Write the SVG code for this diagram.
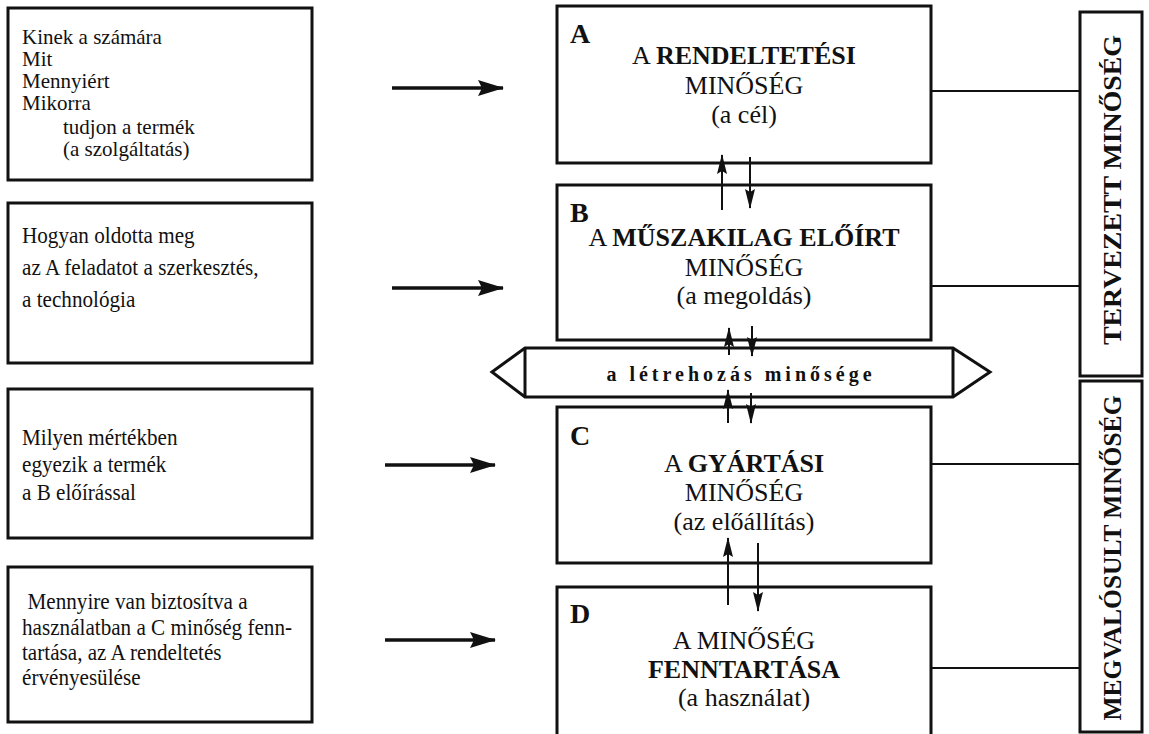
<svg xmlns="http://www.w3.org/2000/svg" width="1149" height="734" viewBox="0 0 1149 734">
<defs>
<style>
.box{fill:#fff;stroke:#111;stroke-width:3}
.lt{font-family:"Liberation Serif","Times New Roman",serif;font-size:23px;fill:#111}
.lt1{font-family:"Liberation Serif","Times New Roman",serif;font-size:21px;fill:#111}
.ct{font-family:"Liberation Serif","Times New Roman",serif;font-size:26px;fill:#111;text-anchor:middle}
.b{font-weight:bold}
.lbl{font-family:"Liberation Serif","Times New Roman",serif;font-size:28px;font-weight:bold;fill:#111}
.vt{font-family:"Liberation Serif","Times New Roman",serif;font-size:26px;font-weight:bold;fill:#111;text-anchor:middle}
.conn{stroke:#111;stroke-width:2;fill:none}
.harr{stroke:#111;stroke-width:3.5;fill:none}
.varr{stroke:#111;stroke-width:2;fill:none}
</style>
<marker id="hh" markerUnits="userSpaceOnUse" markerWidth="26" markerHeight="16" refX="25" refY="8" orient="auto">
<path d="M0,0 L26,8 L0,16 L4,8 Z" fill="#111"/>
</marker>
<marker id="vh" markerUnits="userSpaceOnUse" markerWidth="20" markerHeight="10" refX="19" refY="5" orient="auto">
<path d="M0,0 L20,5 L0,10 L3,5 Z" fill="#111"/>
</marker>
</defs>
<rect width="1149" height="734" fill="#fff"/>

<g id="q1">
<rect class="box" x="8" y="8" width="304" height="172"/>
<text class="lt1" x="22" y="44">Kinek a számára</text>
<text class="lt1" x="22" y="66">Mit</text>
<text class="lt1" x="22" y="88">Mennyiért</text>
<text class="lt1" x="22" y="110">Mikorra</text>
<text class="lt1" x="63" y="134">tudjon a termék</text>
<text class="lt1" x="63" y="156">(a szolgáltatás)</text>
</g>

<g id="q2">
<rect class="box" x="8" y="203" width="304" height="160"/>
<g transform="translate(22,0) scale(0.92,1)">
<text class="lt" x="0" y="243">Hogyan oldotta meg</text>
<text class="lt" x="0" y="275">az A feladatot a szerkesztés,</text>
<text class="lt" x="0" y="307">a technológia</text>
</g>
</g>

<g id="q3">
<rect class="box" x="8" y="389" width="304" height="149"/>
<g transform="translate(22,0) scale(0.92,1)">
<text class="lt" x="0" y="445">Milyen mértékben</text>
<text class="lt" x="0" y="472">egyezik a termék</text>
<text class="lt" x="0" y="500">a B előírással</text>
</g>
</g>

<g id="q4">
<rect class="box" x="8" y="567" width="304" height="155"/>
<g transform="translate(22,0) scale(0.92,1)">
<text class="lt" x="6" y="609">Mennyire van biztosítva a</text>
<text class="lt" x="0" y="635">használatban a C minőség fenn-</text>
<text class="lt" x="0" y="660">tartása, az A rendeltetés</text>
<text class="lt" x="0" y="685">érvényesülése</text>
</g>
</g>

<g id="nodeA">
<rect class="box" x="557" y="6" width="374" height="157"/>
<text class="lbl" x="570" y="43">A</text>
<text class="ct" x="744" y="64">A <tspan class="b">RENDELTETÉSI</tspan></text>
<text class="ct" x="744" y="94">MINŐSÉG</text>
<text class="ct" x="744" y="123">(a cél)</text>
</g>

<g id="nodeB">
<rect class="box" x="557" y="185" width="374" height="155"/>
<text class="lbl" x="570" y="222">B</text>
<text class="ct" x="744" y="246">A <tspan class="b">MŰSZAKILAG ELŐÍRT</tspan></text>
<text class="ct" x="744" y="276">MINŐSÉG</text>
<text class="ct" x="744" y="304">(a megoldás)</text>
</g>

<g id="banner">
<polygon points="492,372 525,348 953,348 990,372 953,397 525,397" fill="#fff" stroke="#111" stroke-width="3" stroke-linejoin="miter"/>
<line x1="525" y1="348" x2="525" y2="397" stroke="#111" stroke-width="3"/>
<line x1="953" y1="348" x2="953" y2="397" stroke="#111" stroke-width="3"/>
<text x="741" y="381" font-family="Liberation Serif, serif" font-size="20" font-weight="bold" letter-spacing="4" text-anchor="middle" fill="#111">a létrehozás minősége</text>
</g>

<g id="nodeC">
<rect class="box" x="557" y="407" width="374" height="156"/>
<text class="lbl" x="570" y="445">C</text>
<text class="ct" x="744" y="472">A <tspan class="b">GYÁRTÁSI</tspan></text>
<text class="ct" x="744" y="501">MINŐSÉG</text>
<text class="ct" x="744" y="530">(az előállítás)</text>
</g>

<g id="nodeD">
<path class="box" d="M557,740 L557,587 L931,587 L931,740"/>
<text class="lbl" x="570" y="623">D</text>
<text class="ct" x="744" y="649">A MINŐSÉG</text>
<text class="ct b" x="744" y="678">FENNTARTÁSA</text>
<text class="ct" x="744" y="706">(a használat)</text>
</g>

<g id="tervezett">
<rect class="box" x="1080" y="12" width="62" height="364"/>
<text class="vt" transform="translate(1121,190) rotate(-90)" textLength="310" lengthAdjust="spacingAndGlyphs">TERVEZETT MINŐSÉG</text>
</g>

<g id="megvalosult">
<rect class="box" x="1080" y="381" width="62" height="351"/>
<text class="vt" transform="translate(1121,558) rotate(-90)" textLength="325" lengthAdjust="spacingAndGlyphs">MEGVALÓSULT MINŐSÉG</text>
</g>

<g id="connectors">
<line class="harr" x1="392" y1="88" x2="503" y2="88" marker-end="url(#hh)"/>
<line class="harr" x1="392" y1="288" x2="503" y2="288" marker-end="url(#hh)"/>
<line class="harr" x1="385" y1="465" x2="495" y2="465" marker-end="url(#hh)"/>
<line class="harr" x1="385" y1="640" x2="495" y2="640" marker-end="url(#hh)"/>

<line class="varr" x1="722" y1="210" x2="722" y2="155" marker-end="url(#vh)"/>
<line class="varr" x1="750" y1="157" x2="750" y2="208" marker-end="url(#vh)"/>
<line class="varr" x1="729" y1="355" x2="729" y2="328" marker-end="url(#vh)"/>
<line class="varr" x1="752" y1="326" x2="752" y2="356" marker-end="url(#vh)"/>
<line class="varr" x1="728" y1="423" x2="728" y2="390" marker-end="url(#vh)"/>
<line class="varr" x1="751" y1="393" x2="751" y2="423" marker-end="url(#vh)"/>
<line class="varr" x1="728" y1="605" x2="728" y2="538" marker-end="url(#vh)"/>
<line class="varr" x1="758" y1="543" x2="758" y2="611" marker-end="url(#vh)"/>

<line class="conn" x1="931" y1="91" x2="1080" y2="91"/>
<line class="conn" x1="931" y1="286" x2="1080" y2="286"/>
<line class="conn" x1="931" y1="464" x2="1080" y2="464"/>
<line class="conn" x1="931" y1="668" x2="1080" y2="668"/>
</g>
</svg>
